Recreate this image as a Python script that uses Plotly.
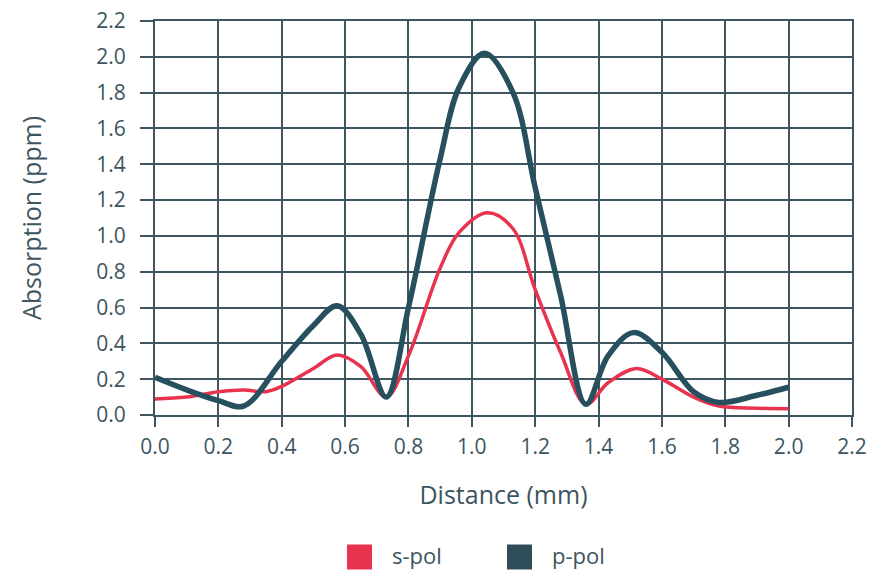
import plotly.graph_objects as go

# Absorption profiles across the sample (distance in mm, absorption in ppm)
s_x = [0.0, 0.1, 0.2, 0.28, 0.35, 0.4, 0.5, 0.575, 0.65, 0.73, 0.8, 0.9, 0.96, 1.05, 1.13, 1.2, 1.28, 1.36, 1.43, 1.52, 1.6, 1.7, 1.78, 1.9, 2.0]
s_pol = [0.09, 0.10, 0.13, 0.14, 0.13, 0.16, 0.26, 0.335, 0.27, 0.10, 0.33, 0.82, 1.02, 1.13, 1.04, 0.70, 0.35, 0.06, 0.18, 0.26, 0.20, 0.10, 0.05, 0.038, 0.035]

p_x = [0.0, 0.1, 0.2, 0.28, 0.4, 0.5, 0.575, 0.65, 0.73, 0.8, 0.9, 0.96, 1.04, 1.13, 1.2, 1.28, 1.36, 1.43, 1.51, 1.6, 1.7, 1.78, 1.9, 2.0]
p_pol = [0.21, 0.14, 0.08, 0.05, 0.30, 0.50, 0.61, 0.45, 0.10, 0.60, 1.43, 1.83, 2.02, 1.80, 1.27, 0.67, 0.06, 0.33, 0.46, 0.35, 0.13, 0.07, 0.11, 0.155]

series_names = ["s-pol", "p-pol"]

x_ticks = [0.0, 0.2, 0.4, 0.6, 0.8, 1.0, 1.2, 1.4, 1.6, 1.8, 2.0, 2.2]
y_ticks = [0.0, 0.2, 0.4, 0.6, 0.8, 1.0, 1.2, 1.4, 1.6, 1.8, 2.0, 2.2]

RED = "#e8334f"
DARK = "#27505e"
SWATCH_DARK = "#2f4c59"
GRID = "#3f5661"
TEXT = "#3d5560"
FONT = "Open Sans"

W, H = 874, 573
M_L, M_R, M_T, M_B = 155, 22, 21, 158

fig = go.Figure()
fig.add_trace(go.Scatter(x=s_x, y=s_pol, name=series_names[0], mode="lines",
                         line=dict(color=RED, width=3.5, shape="spline", smoothing=1.0), showlegend=False))
fig.add_trace(go.Scatter(x=p_x, y=p_pol, name=series_names[1], mode="lines",
                         line=dict(color=DARK, width=5.5, shape="spline", smoothing=1.0), showlegend=False))

axis_common = dict(
    showgrid=True, gridcolor=GRID, gridwidth=2,
    showline=True, mirror=True, linecolor=GRID, linewidth=2,
    ticks="outside", tickcolor=GRID, tickwidth=2,
    zeroline=False, tickformat=".1f",
    tickfont=dict(family=FONT, size=21, color=TEXT),
)

fig.update_xaxes(range=[0, 2.2], tickvals=x_ticks, ticklen=10, ticklabelstandoff=2,
                 title=dict(text="Distance (mm)", font=dict(family=FONT, size=25, color=TEXT), standoff=27),
                 **axis_common)
fig.update_yaxes(range=[0, 2.2], tickvals=y_ticks, ticklen=13, ticklabelstandoff=10,
                 title=dict(text="Absorption (ppm)", font=dict(family=FONT, size=25, color=TEXT), standoff=48),
                 **axis_common)

# Legend drawn as large square swatches with labels, in pixel positions converted to paper coords
def px_to_paper_x(px):
    return (px - M_L) / (W - M_L - M_R)

def px_to_paper_y(py):
    return (H - M_B - py) / (H - M_T - M_B)

legend_items = [(series_names[0], RED, 347), (series_names[1], SWATCH_DARK, 507)]
sq = 25
cy = 557
for name, color, left in legend_items:
    fig.add_shape(type="rect", xref="paper", yref="paper",
                  x0=px_to_paper_x(left), x1=px_to_paper_x(left + sq),
                  y0=px_to_paper_y(cy + sq / 2), y1=px_to_paper_y(cy - sq / 2),
                  fillcolor=color, line=dict(width=0))
    fig.add_annotation(x=px_to_paper_x(left + sq + 18), y=px_to_paper_y(cy - 2), xref="paper", yref="paper",
                       text=name, showarrow=False, xanchor="left", yanchor="middle",
                       font=dict(family=FONT, size=22, color=TEXT))

fig.update_layout(
    width=W, height=H,
    margin=dict(l=M_L, r=M_R, t=M_T, b=M_B, autoexpand=False),
    paper_bgcolor="white", plot_bgcolor="white",
    font=dict(family=FONT, color=TEXT),
    showlegend=False,
)

fig.write_html("out.html")
